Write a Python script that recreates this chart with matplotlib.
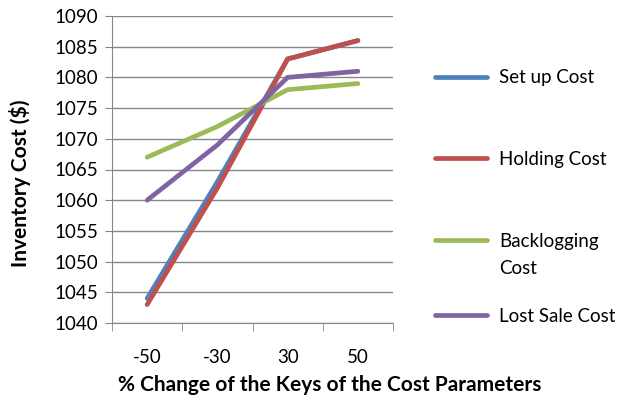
import matplotlib
matplotlib.use("Agg")
import matplotlib.pyplot as plt
from matplotlib.lines import Line2D
import numpy as np

categories = ["-50", "-30", "30", "50"]
setup_cost = [1044, 1063, 1083, 1086]
holding_cost = [1043, 1062, 1083, 1086]
backlogging_cost = [1067, 1072, 1078, 1079]
lost_sale_cost = [1060, 1069, 1080, 1081]
series_names = ["Set up Cost", "Holding Cost", "Backlogging\nCost", "Lost Sale Cost"]
colors = ["#4F81BD", "#C0504D", "#9BBB59", "#8064A2"]

plt.rcParams["font.family"] = ["Lato", "DejaVu Sans"]

W, H = 619, 404
fig = plt.figure(figsize=(W / 100, H / 100), dpi=100)
ax = fig.add_axes([112 / W, 1 - 323 / H, (393 - 112) / W, (323 - 16) / H])

x = np.arange(len(categories))
all_series = [setup_cost, holding_cost, backlogging_cost, lost_sale_cost]
for vals, c in zip(all_series, colors):
    ax.plot(x, vals, color=c, lw=3.4, solid_capstyle="round", solid_joinstyle="miter")

ax.set_xlim(-0.5, len(categories) - 0.5)
ax.set_ylim(1040, 1090)
ax.set_yticks(np.arange(1040, 1091, 5))
ax.yaxis.grid(True, color="#868686", lw=1)
ax.set_axisbelow(True)

ax.set_xticks(x)
ax.set_xticklabels(categories, fontsize=13.5)
ax.set_xticks(np.arange(-0.5, len(categories), 1), minor=True)
ax.tick_params(axis="x", which="major", length=0, pad=19)
ax.tick_params(axis="x", which="minor", length=6, color="#868686", direction="out")
ax.tick_params(axis="y", length=5, color="#868686", labelsize=13.5, pad=5)

for s in ["top", "right"]:
    ax.spines[s].set_visible(False)
for s in ["left", "bottom"]:
    ax.spines[s].set_color("#868686")

ax.set_xlabel("% Change of the Keys of the Cost Parameters", fontsize=15,
              fontweight="bold")
ax.xaxis.set_label_coords((330 - 112) / (393 - 112), -(385 - 323) / (323 - 16))
ax.xaxis.label.set_va("center")
ax.set_ylabel("Inventory Cost ($)", fontsize=15, fontweight="bold")
ax.yaxis.set_label_coords(-(112 - 20) / (393 - 112), (323 - 183) / (323 - 16))
ax.yaxis.label.set_va("center")

# Legend entries stacked down the right side
legend_y = [77, 158, 240, 315]
for name, c, yy in zip(series_names, colors, legend_y):
    yf = 1 - yy / H
    fig.add_artist(Line2D([435 / W, 487 / W], [yf, yf], color=c, lw=3.4,
                          solid_capstyle="round", transform=fig.transFigure))
    for i, line in enumerate(name.split("\n")):
        fig.text(499 / W, yf - (i * 27 + 1) / H, line, fontsize=13.5,
                 va="center", ha="left")

fig.savefig("out.png", dpi=100)
